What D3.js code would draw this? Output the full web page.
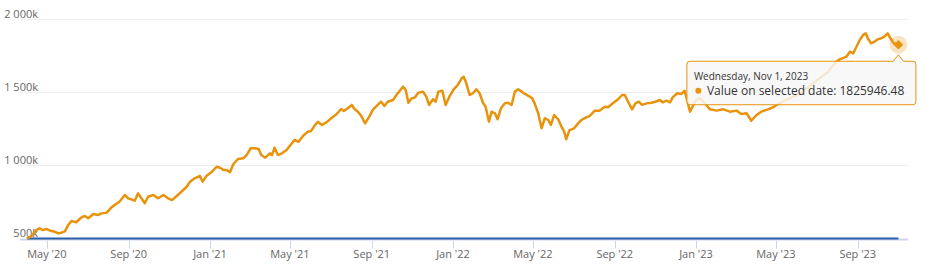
<!DOCTYPE html>
<html>
<head>
<meta charset="utf-8">
<script src="https://cdn.jsdelivr.net/npm/d3@7"></script>
<style>
	body { margin: 0; background: #fff; }
	svg { display: block; font-family: "Open Sans", "Noto Sans", sans-serif; }
</style>
</head>
<body>
<script>
(function() {
	"use strict";
	// portfolio value, in thousands
	const DATES = [
		"2020-04-01","2020-04-08","2020-04-15","2020-04-20","2020-04-25","2020-04-30","2020-05-08","2020-05-13",
		"2020-05-18","2020-05-23","2020-05-28","2020-06-02","2020-06-07","2020-06-14","2020-06-22","2020-06-27",
		"2020-07-02","2020-07-10","2020-07-17","2020-07-22","2020-07-30","2020-08-06","2020-08-13","2020-08-18",
		"2020-08-26","2020-08-31","2020-09-05","2020-09-10","2020-09-15","2020-09-20","2020-09-25","2020-09-30",
		"2020-10-08","2020-10-15","2020-10-23","2020-10-30","2020-11-05","2020-11-12","2020-11-19","2020-11-27",
		"2020-12-02","2020-12-09","2020-12-17","2020-12-21","2020-12-27",
		"2021-01-04","2021-01-11","2021-01-16","2021-01-21","2021-01-26","2021-01-31","2021-02-05","2021-02-12",
		"2021-02-20","2021-02-25","2021-03-03","2021-03-09","2021-03-15","2021-03-19","2021-03-25","2021-04-01",
		"2021-04-04","2021-04-08","2021-04-13","2021-04-19","2021-04-26","2021-05-01","2021-05-08","2021-05-14",
		"2021-05-21","2021-05-28","2021-06-02","2021-06-07","2021-06-12","2021-06-18","2021-06-25","2021-07-02",
		"2021-07-10","2021-07-17","2021-07-21","2021-07-27","2021-08-02","2021-08-06","2021-08-11","2021-08-16",
		"2021-08-22","2021-08-29","2021-09-03","2021-09-10","2021-09-15","2021-09-20","2021-09-25","2021-10-03",
		"2021-10-10","2021-10-18","2021-10-22","2021-10-26","2021-10-31","2021-11-05","2021-11-10","2021-11-17",
		"2021-11-22","2021-11-26","2021-12-02","2021-12-06","2021-12-10","2021-12-16","2021-12-21","2021-12-27",
		"2022-01-02","2022-01-08","2022-01-14","2022-01-17","2022-01-21","2022-01-26","2022-01-31","2022-02-05",
		"2022-02-10","2022-02-15","2022-02-19","2022-02-24","2022-02-28","2022-03-05","2022-03-09","2022-03-14",
		"2022-03-20","2022-03-25","2022-03-30","2022-04-04","2022-04-09","2022-04-14","2022-04-19","2022-04-25",
		"2022-04-30","2022-05-04","2022-05-09","2022-05-14","2022-05-19","2022-05-24","2022-05-28","2022-06-02",
		"2022-06-08","2022-06-13","2022-06-17","2022-06-20","2022-06-25","2022-07-02","2022-07-08","2022-07-13",
		"2022-07-20","2022-07-25","2022-08-02","2022-08-09","2022-08-17","2022-08-22","2022-08-29","2022-09-06",
		"2022-09-12","2022-09-16","2022-09-21","2022-09-27","2022-10-02","2022-10-07","2022-10-12","2022-10-19",
		"2022-10-26","2022-11-01","2022-11-08","2022-11-12","2022-11-18","2022-11-23","2022-11-27","2022-12-04",
		"2022-12-10","2022-12-15","2022-12-23",
		"2023-01-01","2023-01-07","2023-01-14","2023-01-22","2023-02-01","2023-02-11","2023-02-21","2023-03-03",
		"2023-03-10","2023-03-18","2023-03-25","2023-04-02","2023-04-09","2023-04-19","2023-04-27","2023-05-07",
		"2023-05-22","2023-06-06","2023-06-21","2023-07-06","2023-07-18","2023-07-30","2023-08-05","2023-08-15",
		"2023-08-20","2023-08-25","2023-08-30","2023-09-04","2023-09-09","2023-09-13","2023-09-16","2023-09-21",
		"2023-09-26","2023-10-01","2023-10-06","2023-10-11","2023-10-16","2023-10-20","2023-10-25","2023-11-01"
	],
	VALUES_K = [
		501, 517, 558, 570, 558, 565, 551, 546,
		536, 540, 549, 592, 620, 611, 645, 654,
		638, 668, 661, 672, 677, 713, 736, 752,
		798, 775, 768, 759, 809, 775, 741, 786,
		798, 775, 798, 775, 763, 791, 820, 854,
		889, 912, 928, 889, 930,
		957, 991, 984, 969, 969, 953, 1008, 1044,
		1049, 1071, 1117, 1117, 1112, 1071, 1053, 1083,
		1071, 1121, 1071, 1083, 1106, 1135, 1174, 1162,
		1203, 1231, 1236, 1272, 1299, 1277, 1295, 1323,
		1350, 1386, 1372, 1391, 1414, 1386, 1368, 1340,
		1288, 1340, 1384, 1414, 1436, 1407, 1436, 1448,
		1494, 1539, 1516, 1429, 1459, 1466, 1498, 1505,
		1470, 1414, 1453, 1436, 1505, 1511, 1414, 1475,
		1521, 1550, 1596, 1607, 1562, 1482, 1494, 1521,
		1494, 1429, 1402, 1299, 1368, 1357, 1316, 1391,
		1425, 1429, 1414, 1505, 1521, 1505, 1489, 1475,
		1459, 1420, 1357, 1254, 1323, 1311, 1277, 1345,
		1316, 1265, 1231, 1179, 1242, 1254, 1288, 1311,
		1329, 1338, 1375, 1375, 1402, 1398, 1425, 1453,
		1482, 1482, 1436, 1384, 1425, 1436, 1414, 1425,
		1429, 1436, 1448, 1432, 1443, 1432, 1466, 1494,
		1489, 1511, 1368,
		1448, 1461, 1427, 1384, 1375, 1384, 1368, 1375,
		1352, 1357, 1306, 1345, 1368, 1384, 1398, 1427,
		1461, 1489, 1544, 1598, 1639, 1708, 1726, 1744,
		1778, 1767, 1812, 1858, 1893, 1904, 1870, 1836,
		1847, 1863, 1870, 1881, 1904, 1870, 1836, 1825.94648
	],
	Y_TICKS = [ 500, 1000, 1500, 2000 ],
	TOOLTIP_DATE = "Wednesday, Nov 1, 2023",
	TOOLTIP_LABEL = "Value on selected date: ";

	const W = 940, H = 268,
	      plot_l = 20, plot_r = 908,
	      orange = "#e8930c", blue = "#2c5fa8";

	const parse = d3.timeParse("%Y-%m-%d");
	const data = DATES.map((d, i) => ({ date: parse(d), v: VALUES_K[i] }));

	const x = d3.scaleTime().domain(d3.extent(data, d => d.date)).range([26.9, 898.4]);
	const y = d3.scaleLinear().domain([500, 2000]).range([238.5, 19.3]);

	const svg = d3.select("body").append("svg").attr("width", W).attr("height", H);

	// grid lines
	svg.selectAll("line.grid").data(Y_TICKS).enter().append("line")
		.attr("x1", plot_l).attr("x2", plot_r)
		.attr("y1", d => Math.round(y(d)) + 0.5).attr("y2", d => Math.round(y(d)) + 0.5)
		.attr("stroke", "#eeeeee").attr("stroke-width", 1);

	// y labels
	const fmt_k = d => d3.format(",")(d).replace(/,/g, " ") + "k";
	svg.selectAll("text.ylab").data(Y_TICKS).enter().append("text")
		.attr("x", 38).attr("y", d => y(d) - 1.5)
		.attr("text-anchor", "end")
		.attr("font-size", "11px").attr("fill", "#666")
		.text(fmt_k);

	// x axis
	const ax_y = Math.round(y(500)) + 0.5;
	svg.append("line").attr("x1", plot_l).attr("x2", plot_r).attr("y1", ax_y).attr("y2", ax_y)
		.attr("stroke", "#ccd6eb").attr("stroke-width", 2);
	const xticks = x.ticks(d3.timeMonth.every(4));
	svg.selectAll("line.xtick").data(xticks).enter().append("line")
		.attr("x1", d => Math.round(x(d)) + 0.5).attr("x2", d => Math.round(x(d)) + 0.5)
		.attr("y1", ax_y + 1).attr("y2", ax_y + 9)
		.attr("stroke", "#ccd6eb");
	svg.selectAll("text.xlab").data(xticks).enter().append("text")
		.attr("x", d => x(d)).attr("y", 257.5)
		.attr("text-anchor", "middle")
		.attr("font-size", "11px").attr("fill", "#666")
		.text(d3.timeFormat("%b '%y"));

	// flat blue series along the bottom
	const x_ext = d3.extent(data, d => d.date);
	svg.append("line")
		.attr("x1", x(x_ext[0])).attr("x2", x(x_ext[1]))
		.attr("y1", y(500)).attr("y2", y(500))
		.attr("stroke", blue).attr("stroke-width", 2);

	// value line
	const line = d3.line().x(d => x(d.date)).y(d => y(d.v));
	svg.append("path").datum(data)
		.attr("d", line)
		.attr("fill", "none").attr("stroke", orange)
		.attr("stroke-width", 2.5).attr("stroke-linejoin", "round");

	// hovered point
	const last = data[data.length - 1],
	      px = x(last.date), py = y(last.v);
	svg.append("circle").attr("cx", px).attr("cy", py).attr("r", 9)
		.attr("fill", orange).attr("fill-opacity", 0.25);
	svg.append("path")
		.attr("d", d3.symbol(d3.symbolDiamond2, 60)())
		.attr("transform", `translate(${px},${py})`)
		.attr("fill", orange);

	// tooltip with callout pointing at the point
	const tl = px - 211.5, tr = px + 17.5, tt = py + 16.5, tb = py + 60, r = 3;
	const tip = d3.path();
	tip.moveTo(tl + r, tt);
	tip.lineTo(px - 5, tt); tip.lineTo(px, py + 10); tip.lineTo(px + 5, tt);
	tip.lineTo(tr - r, tt); tip.quadraticCurveTo(tr, tt, tr, tt + r);
	tip.lineTo(tr, tb - r); tip.quadraticCurveTo(tr, tb, tr - r, tb);
	tip.lineTo(tl + r, tb); tip.quadraticCurveTo(tl, tb, tl, tb - r);
	tip.lineTo(tl, tt + r); tip.quadraticCurveTo(tl, tt, tl + r, tt);
	tip.closePath();
	svg.append("path").attr("d", tip.toString())
		.attr("fill", "rgba(247,247,247,0.85)").attr("stroke", orange).attr("stroke-width", 1);

	svg.append("text").attr("x", tl + 7).attr("y", tt + 18.5)
		.attr("font-size", "10px").attr("fill", "#333").text(TOOLTIP_DATE);
	svg.append("circle").attr("cx", tl + 11.5).attr("cy", tt + 29.5).attr("r", 3)
		.attr("fill", orange);
	const tline = svg.append("text").attr("x", tl + 20).attr("y", tt + 33.5)
		.attr("font-size", "12px").attr("fill", "#333");
	tline.append("tspan").text(TOOLTIP_LABEL);
	tline.append("tspan").text(d3.format(".2f")(last.v * 1000));
}());
</script>
</body>
</html>
